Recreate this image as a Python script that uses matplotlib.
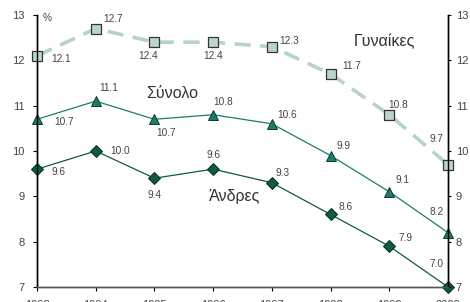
import matplotlib
matplotlib.use("Agg")
import matplotlib.pyplot as plt

years = ["1993", "1994", "1995", "1996", "1997", "1998", "1999", "2000"]
women = [12.1, 12.7, 12.4, 12.4, 12.3, 11.7, 10.8, 9.7]
total = [10.7, 11.1, 10.7, 10.8, 10.6, 9.9, 9.1, 8.2]
men = [9.6, 10.0, 9.4, 9.6, 9.3, 8.6, 7.9, 7.0]
yticks = [7, 8, 9, 10, 11, 12, 13]

# label offsets in pixels (dx, dy up)
women_off = [(24, -3), (17, 10), (-6, -14), (0, -14), (17, 6), (21, 8), (9, 10), (-11, 26)]
total_off = [(27, -3), (13, 13), (12, -14), (10, 13), (15, 9), (13, 10), (13, 12), (-11, 21)]
men_off = [(21, -3), (24, 0), (0, -17), (0, 14), (11, 10), (15, 7), (16, 8), (-11, 23)]

plt.rcParams['font.family'] = ['Liberation Sans', 'DejaVu Sans']

W, H = 470, 302
fig = plt.figure(figsize=(W/100, H/100), dpi=100)
ax = fig.add_axes([37/W, 15/H, 411/W, 272/H])
x = list(range(len(years)))

c_w_line = "#b4d4c8"
c_w_mark = "#b9d5cc"
c_t = "#1d7d6a"
c_m = "#0e5a44"

ax.plot(x, women, color=c_w_line, lw=2.6, dashes=(4.5, 2.6), zorder=2, clip_on=False)
ax.plot(x, women, ls='none', marker='s', ms=6.5, mfc=c_w_mark, mec="#333333", mew=0.9, zorder=5, clip_on=False)
ax.plot(x, total, color=c_t, lw=0.9, marker='^', ms=7, mfc=c_t, mec="#0a3a30", mew=0.7, zorder=5, clip_on=False)
ax.plot(x, men, color=c_m, lw=0.9, marker='D', ms=6, mfc=c_m, mec="#05301f", mew=0.7, zorder=5, clip_on=False)

tc = "#444444"
px = 0.72
for series, offs in ((women, women_off), (total, total_off), (men, men_off)):
    for xi, v, (dx, dy) in zip(x, series, offs):
        ax.annotate(f"{v:.1f}", (xi, v), xytext=(dx*px, dy*px), textcoords='offset points',
                    ha='center', va='center', fontsize=7.3, color=tc)

def ftext(xp, yp, s, **kw):
    fig.text(xp/W, 1 - yp/H, s, **kw)

ftext(384, 42, "Γυναίκες", fontsize=11.5, color="#333333", ha='center', va='center')
ftext(172, 93, "Σύνολο", fontsize=11.5, color="#333333", ha='center', va='center')
ftext(235, 197, "Άνδρες", fontsize=11.5, color="#333333", ha='center', va='center')
ftext(43, 18, "%", fontsize=7.3, color=tc, ha='left', va='center')

ax.set_xlim(0, 7)
ax.set_ylim(7, 13)
ax.set_yticks(yticks)
ax.set_xticks(x)
ax.set_xticklabels(years)
ax.tick_params(axis='y', direction='out', length=3, width=0.8, labelsize=8, labelcolor=tc, pad=6)
ax.tick_params(axis='x', direction='out', length=3, width=0.8, labelsize=8, labelcolor=tc, pad=6)

ax2 = ax.twinx()
ax2.set_ylim(7, 13)
ax2.set_yticks(yticks)
ax2.tick_params(axis='y', direction='out', length=2.5, width=0.8, labelsize=8, labelcolor=tc, pad=3)

for a in (ax, ax2):
    a.spines['top'].set_visible(False)
    for s in ('left', 'right'):
        a.spines[s].set_color('black')
        a.spines[s].set_linewidth(1.0)
    a.spines['bottom'].set_color('#555555')
    a.spines['bottom'].set_linewidth(1.0)

fig.savefig("out.png", dpi=100)
